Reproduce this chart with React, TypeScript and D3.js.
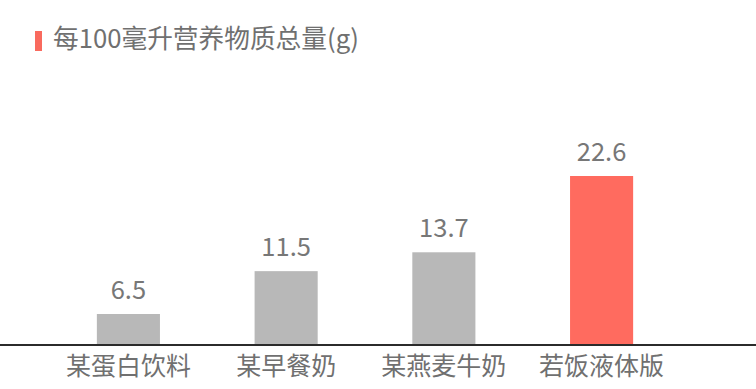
import React from "react";
import * as d3 from "d3";

const categories = ["某蛋白饮料", "某早餐奶", "某燕麦牛奶", "若饭液体版"];
const totals = [6.5, 11.5, 13.7, 22.6];
const highlight = [false, false, false, true];
const title = "每100毫升营养物质总量(g)";

const W = 756;
const H = 389;
const FONT = "'Noto Sans CJK SC', 'Noto Sans', sans-serif";

export default function App() {
  const baseline = 344;
  const x = d3
    .scaleBand<string>()
    .domain(categories)
    .range([18, 712])
    .paddingInner(0.6)
    .paddingOuter(0.5);
  const y = d3.scaleLinear().domain([3, 22.6]).range([baseline, 176]);

  return (
    <svg
      width={W}
      height={H}
      style={{ position: "absolute", left: 0, top: 0, background: "#fff" }}
      fontFamily={FONT}
    >
      <rect x={35} y={31} width={7} height={20} fill="#f96a5e" />
      <text x={53} y={48} fontSize={25.7} fill="#707070">
        {title}
      </text>

      {categories.map((c, i) => {
        const bx = x(c)!;
        const top = y(totals[i]);
        const cx = bx + x.bandwidth() / 2;
        return (
          <g key={c}>
            <rect
              x={bx}
              y={top}
              width={x.bandwidth()}
              height={baseline - top}
              fill={highlight[i] ? "#ff6b5f" : "#b8b8b8"}
            />
            <text
              x={cx}
              y={top - 15}
              textAnchor="middle"
              fontSize={25.5}
              fill="#777"
            >
              {totals[i]}
            </text>
            <text
              x={cx}
              y={375}
              textAnchor="middle"
              fontSize={25}
              fill="#707070"
            >
              {c}
            </text>
          </g>
        );
      })}

      <line x1={0} x2={W} y1={baseline + 1} y2={baseline + 1} stroke="#2b2b2b" strokeWidth={2} />
    </svg>
  );
}
